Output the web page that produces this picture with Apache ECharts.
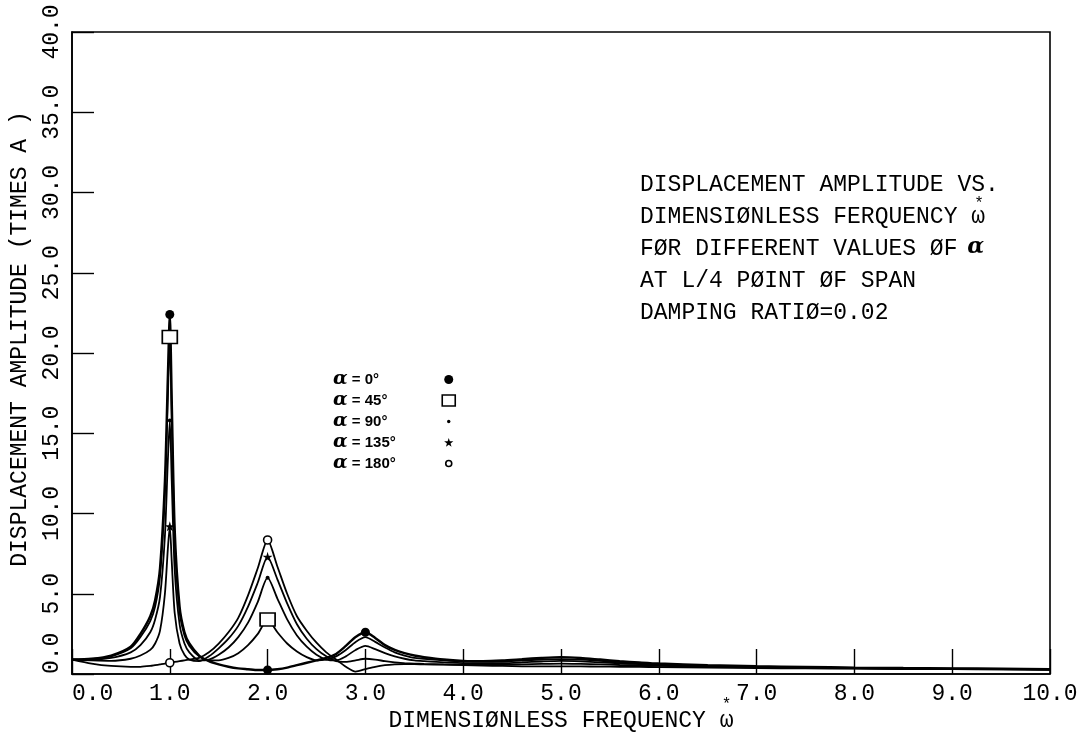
<!DOCTYPE html>
<html>
<head>
<meta charset="utf-8">
<script src="https://cdn.jsdelivr.net/npm/echarts@6/dist/echarts.min.js"></script>
<style>
  html, body { margin: 0; padding: 0; background: #fff; }
  #chart { width: 1078px; height: 745px; }
</style>
</head>
<body>
<div id="chart"></div>
<script>
// Dimensionless forcing frequency samples
const omega = [0, 0.2, 0.4, 0.6, 0.7, 0.8, 0.85, 0.9, 0.95, 0.98,
  1.0, 1.02, 1.05, 1.1, 1.15, 1.2, 1.3, 1.4, 1.5, 1.6,
  1.7, 1.8, 1.9, 2.0, 2.1, 2.2, 2.3, 2.4, 2.5, 2.6,
  2.7, 2.8, 2.9, 3.0, 3.1, 3.2, 3.3, 3.4, 3.5, 3.6,
  3.8, 4.0, 4.2, 4.4, 4.6, 4.8, 5.0, 5.2, 5.4, 5.6,
  5.8, 6.0, 6.5, 7.0, 7.5, 8.0, 8.5, 9.0, 9.5, 10.0];

// Displacement amplitude (times A) at the L/4 point, one list per alpha
const amp0 = [0.9, 0.95, 1.15, 1.7, 2.5, 3.6, 4.6, 6.6, 12.0, 18.5,
  22.4, 17.0, 9.0, 4.2, 2.6, 1.9, 1.15, 0.8, 0.6, 0.45,
  0.35, 0.3, 0.25, 0.25, 0.3, 0.4, 0.55, 0.7, 0.85, 1.0,
  1.25, 1.75, 2.3, 2.6, 2.25, 1.8, 1.5, 1.3, 1.15, 1.05,
  0.9, 0.82, 0.8, 0.84, 0.92, 1.0, 1.05, 1.0, 0.9, 0.8,
  0.72, 0.65, 0.55, 0.48, 0.44, 0.4, 0.37, 0.35, 0.33, 0.3];

const amp45 = [0.9, 0.93, 1.1, 1.6, 2.3, 3.3, 4.2, 6.1, 11.2, 17.2,
  21.0, 15.8, 8.4, 3.9, 2.4, 1.75, 1.1, 0.85, 0.85, 1.0,
  1.3, 1.8, 2.5, 3.4, 2.6, 1.9, 1.4, 1.05, 0.85, 0.9,
  1.1, 1.5, 2.0, 2.3, 2.0, 1.65, 1.35, 1.15, 1.0, 0.95,
  0.85, 0.78, 0.76, 0.78, 0.84, 0.9, 0.93, 0.9, 0.82, 0.74,
  0.67, 0.61, 0.52, 0.46, 0.42, 0.38, 0.35, 0.33, 0.31, 0.29];

const amp90 = [0.9, 0.9, 1.0, 1.35, 1.8, 2.6, 3.4, 4.8, 8.6, 13.3,
  15.8, 12.0, 6.5, 3.1, 1.9, 1.35, 0.85, 0.9, 1.2, 1.65,
  2.3, 3.2, 4.5, 6.0, 4.7, 3.4, 2.4, 1.7, 1.2, 0.9,
  0.85, 1.1, 1.5, 1.75, 1.55, 1.3, 1.1, 0.95, 0.85, 0.8,
  0.72, 0.68, 0.66, 0.67, 0.72, 0.78, 0.82, 0.79, 0.73, 0.67,
  0.61, 0.56, 0.49, 0.43, 0.4, 0.36, 0.34, 0.32, 0.3, 0.28];

const amp135 = [0.9, 0.85, 0.82, 0.95, 1.15, 1.5, 1.9, 2.7, 5.0, 7.8,
  9.2, 7.0, 3.8, 1.9, 1.2, 0.9, 0.8, 1.1, 1.6, 2.2,
  3.0, 4.2, 5.7, 7.3, 5.9, 4.4, 3.1, 2.2, 1.55, 1.1,
  0.8, 0.75, 0.85, 0.95, 0.9, 0.8, 0.72, 0.68, 0.65, 0.63,
  0.6, 0.58, 0.56, 0.57, 0.6, 0.63, 0.65, 0.63, 0.6, 0.56,
  0.53, 0.5, 0.45, 0.41, 0.38, 0.35, 0.33, 0.31, 0.29, 0.27];

const amp180 = [0.9, 0.65, 0.5, 0.45, 0.45, 0.5, 0.55, 0.6, 0.65, 0.7,
  0.7, 0.72, 0.75, 0.8, 0.85, 0.9, 1.0, 1.35, 1.9, 2.6,
  3.5, 4.9, 6.6, 8.35, 6.7, 5.0, 3.6, 2.7, 1.95, 1.35,
  0.9, 0.45, 0.15, 0.3, 0.45, 0.55, 0.6, 0.62, 0.62, 0.6,
  0.58, 0.55, 0.52, 0.5, 0.48, 0.47, 0.47, 0.47, 0.46, 0.45,
  0.44, 0.43, 0.4, 0.37, 0.35, 0.33, 0.31, 0.3, 0.29, 0.28];

const alphaNames = ['0°', '45°', '90°', '135°', '180°'];
const ampSeries = [amp0, amp45, amp90, amp135, amp180];
// frequencies at which each curve carries its plotting symbol
const markerOmega = [[1, 2, 3], [1, 2], [1, 2], [1, 2], [1, 2]];

const noteLines = [
  'DISPLACEMENT AMPLITUDE VS.',
  'DIMENSIØNLESS FERQUENCY ω',
  'FØR DIFFERENT VALUES ØF ',
  'AT L/4 PØINT ØF SPAN',
  'DAMPING RATIØ=0.02'
];

const MONO = '"Liberation Mono", "DejaVu Sans Mono", monospace';
const FS = 23;
const CW = FS * 0.6;   // advance of one monospaced character

const STAR = 'path://M50,0 L61,35 L98,35 L68,57 L79,91 L50,70 L21,91 L32,57 L2,35 L39,35 Z';
const symbolDefs = [
  { symbol: 'circle', size: 9, color: '#000', border: 0 },
  { symbol: 'rect', size: [15, 13], color: '#fff', border: 1.6 },
  { symbol: 'circle', size: 4, color: '#000', border: 0 },
  { symbol: STAR, size: 10, color: '#000', border: 0 },
  { symbol: 'circle', size: 8, color: '#fff', border: 1.6 }
];
// legend icons drawn inside a 16x14 box so each keeps its own size
const legendIcons = [
  'path://M0,0 M16,14 M3.5,7 A4.5,4.5 0 1 1 12.5,7 A4.5,4.5 0 1 1 3.5,7 Z',
  'path://M0,0 M16,14 M1.5,1.5 L14.5,1.5 L14.5,12.5 L1.5,12.5 Z',
  'path://M0,0 M16,14 M6.3,7 A1.7,1.7 0 1 1 9.7,7 A1.7,1.7 0 1 1 6.3,7 Z',
  'path://M0,0 M16,14 M8,2.5 L9.1,5.8 L12.6,5.8 L9.8,7.9 L10.8,11.2 L8,9.2 L5.2,11.2 L6.2,7.9 L3.4,5.8 L6.9,5.8 Z',
  'path://M0,0 M16,14 M5,7 A3,3 0 1 1 11,7 A3,3 0 1 1 5,7 Z'
];

const series = [];
ampSeries.forEach((amp, k) => {
  series.push({
    name: alphaNames[k],
    type: 'line',
    data: omega.map((w, i) => [w, amp[i]]),
    showSymbol: false,
    smooth: 0.25,
    lineStyle: { color: '#000', width: k === 0 ? 2.4 : 1.8 },
    itemStyle: { color: '#000' },
    z: 2,
    silent: true
  });
  const d = symbolDefs[k];
  series.push({
    name: alphaNames[k],
    type: 'scatter',
    data: markerOmega[k].map(w => [w, amp[omega.indexOf(w)]]),
    symbol: d.symbol,
    symbolSize: d.size,
    itemStyle: { color: d.color, borderColor: '#000', borderWidth: d.border, opacity: 1 },
    z: 5,
    silent: true
  });
});

const chart = echarts.init(document.getElementById('chart'), null, { renderer: 'canvas' });

const noteX = 640, noteY = 173, noteStep = 32;
const graphics = noteLines.map((t, i) => ({
  type: 'text',
  left: noteX,
  top: noteY + i * noteStep,
  style: { text: t, fill: '#000', font: FS + 'px ' + MONO }
}));
// the symbol a after "OF"
graphics.push({
  type: 'text',
  left: noteX + noteLines[2].length * CW - 4,
  top: noteY + 2 * noteStep - 1,
  style: { text: 'α', fill: '#000', font: 'italic bold 22px "DejaVu Serif"' }
});
// the asterisk over omega
graphics.push({
  type: 'text',
  left: noteX + 24 * CW + 3,
  top: noteY + noteStep - 9,
  style: { text: '*', fill: '#000', font: '16px ' + MONO }
});

// legend labels: the right padding keeps every icon in one column
const legendRich = {
  a: { fontFamily: '"DejaVu Serif"', fontStyle: 'italic', fontWeight: 'bold', fontSize: 19, lineHeight: 20 }
};
[1, 2, 3].forEach(nd => {
  legendRich['t' + nd] = {
    fontFamily: '"Liberation Sans"', fontWeight: 'bold', fontSize: 15, lineHeight: 20,
    padding: [0, 40 + (3 - nd) * 8.34, 0, 0]
  };
});

chart.setOption({
  animation: false,
  backgroundColor: '#fff',
  grid: {
    left: 72, right: 28, top: 32, bottom: 71,
    outerBoundsMode: 'none',
    containLabel: false,
    show: true, borderColor: '#000', borderWidth: 1.6, backgroundColor: 'transparent'
  },
  xAxis: {
    type: 'value', min: 0, max: 10, interval: 1,
    axisLine: { lineStyle: { color: '#000', width: 1.6 } },
    axisTick: { inside: true, length: 25, lineStyle: { color: '#000', width: 1.4 } },
    splitLine: { show: false },
    axisLabel: {
      margin: 8, color: '#000', fontFamily: MONO, fontSize: FS,
      alignMinLabel: 'left',
      formatter: v => v.toFixed(1)
    },
    name: '{sp|' + ' '.repeat(24) + '}{s|*}\n{t|DIMENSIØNLESS FREQUENCY ω}',
    nameLocation: 'middle',
    nameGap: 26,
    nameMoveOverlap: false,
    nameTextStyle: {
      color: '#000',
      rich: {
        sp: { fontFamily: MONO, fontSize: FS, lineHeight: 9 },
        s: { fontFamily: MONO, fontSize: 16, lineHeight: 9, width: CW, align: 'center' },
        t: { fontFamily: MONO, fontSize: FS, lineHeight: 24 }
      }
    }
  },
  yAxis: {
    type: 'value', min: 0, max: 40, interval: 5,
    axisLine: { lineStyle: { color: '#000', width: 1.6 } },
    axisTick: { inside: true, length: 22, lineStyle: { color: '#000', width: 1.4 } },
    splitLine: { show: false },
    axisLabel: {
      rotate: 90, margin: 9, color: '#000', fontFamily: MONO, fontSize: FS,
      alignMinLabel: 'left',
      formatter: v => v.toFixed(1)
    },
    name: 'DISPLACEMENT AMPLITUDE (TIMES A )',
    nameLocation: 'middle',
    nameRotate: 90,
    nameGap: 41,
    nameMoveOverlap: false,
    nameTextStyle: { color: '#000', fontFamily: MONO, fontSize: FS, padding: [0, 0, 0, 28] }
  },
  legend: {
    orient: 'vertical',
    left: 328, top: 365,
    align: 'right',
    itemWidth: 16, itemHeight: 14, itemGap: 2,
    selectedMode: false,
    data: alphaNames.map((n, k) => ({
      name: n,
      icon: legendIcons[k],
      itemStyle: {
        color: symbolDefs[k].color, borderColor: '#000',
        borderWidth: symbolDefs[k].border
      }
    })),
    formatter: n => '{a|α}{t' + (n.length - 1) + '| = ' + n + '}',
    textStyle: { color: '#000', rich: legendRich }
  },
  graphic: graphics,
  series: series
});
</script>
</body>
</html>
